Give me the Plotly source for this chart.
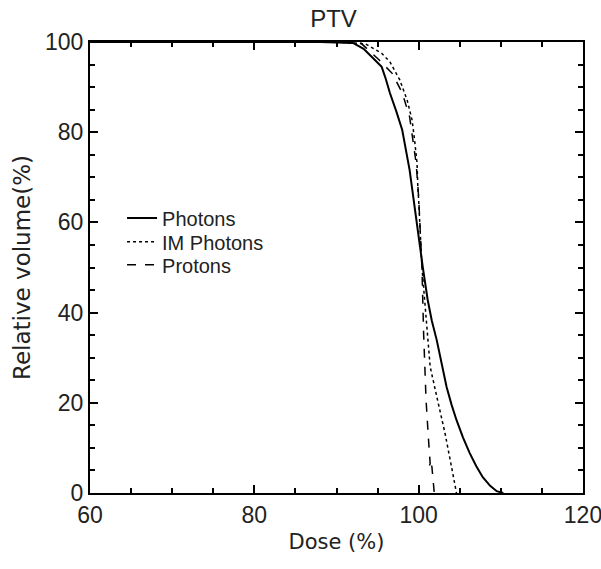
import plotly.graph_objects as go

FONT = "Liberation Sans, Arial, sans-serif"
TITLE_FONT = "DejaVu Sans, Liberation Sans, sans-serif"

# Dose (%) and relative volume (%)
photons_dose = [60, 88, 92.0, 93.3, 94.4, 95.5, 96.0, 96.5, 97.3, 98.0, 98.9, 99.5, 100.0, 100.5, 101.1, 101.6, 102.2, 102.8, 103.4, 104.0, 104.6, 105.4, 106.2, 107.0, 107.8, 108.7, 109.5, 110.3]
photons_vol = [100, 100, 99.8, 98.5, 96.5, 94.5, 91.8, 88.7, 84.5, 80.5, 71.6, 63.4, 56.5, 50.1, 42.8, 38.2, 33.9, 28.5, 23.5, 19.6, 16.2, 12.3, 8.9, 6.0, 3.5, 1.6, 0.4, 0]

im_dose = [60, 90, 93.5, 95.5, 96.5, 97.7, 98.6, 99.2, 99.5, 99.8, 99.9, 100.0, 100.4, 100.9, 101.4, 102.3, 103.2, 104.0, 104.6]
im_vol = [100, 100, 99.6, 97.5, 95.6, 91.6, 87.1, 82.7, 78.3, 73.2, 67.8, 65.0, 50.0, 38.0, 28.0, 20.6, 13.3, 5.8, 0]

protons_dose = [60, 90, 93.0, 95.2, 96.8, 98.0, 98.9, 99.3, 99.7, 100.0, 100.4, 100.6, 100.9, 101.2, 101.4, 101.1, 101.6, 101.9]
protons_vol = [100, 100, 99.7, 96.0, 93.0, 88.7, 83.4, 78.0, 73.0, 65.6, 50.0, 35.5, 20.6, 11.8, 6.5, 5.2, 6.0, 0]

x_ticks = [60, 80, 100, 120]
y_ticks = [0, 20, 40, 60, 80, 100]

fig = go.Figure()
fig.add_trace(go.Scatter(x=photons_dose, y=photons_vol, mode="lines", name="Photons", legend="legend",
                         line=dict(color="black", width=2, dash="solid")))
fig.add_trace(go.Scatter(x=im_dose, y=im_vol, mode="lines", name="IM Photons", legend="legend2",
                         line=dict(color="black", width=1.5, dash="dot")))
fig.add_trace(go.Scatter(x=protons_dose, y=protons_vol, mode="lines", name="Protons", legend="legend3",
                         line=dict(color="black", width=1.5, dash="dash")))

axis_common = dict(
    showline=True, linecolor="black", linewidth=2, mirror="allticks",
    ticks="inside", ticklen=8, tickwidth=1.5, tickcolor="black",
    showgrid=False, zeroline=False, ticklabeloverflow="allow", automargin=False,
    tickfont=dict(family=FONT, size=23, color="#222"),
    minor=dict(ticks="inside", ticklen=5, tickwidth=1.5, tickcolor="black", dtick=5, showgrid=False),
)

leg_common = dict(x=0.065, xanchor="left", yanchor="middle", bgcolor="rgba(0,0,0,0)",
                  font=dict(family=FONT, size=20, color="#222"))

fig.update_layout(
    width=601, height=569,
    margin=dict(l=90, r=18, t=42, b=76, autoexpand=False),
    paper_bgcolor="white", plot_bgcolor="white",
    title=dict(text="PTV", x=0.555, xanchor="center", y=0.968, yanchor="middle",
               font=dict(family=FONT, size=24, color="#222")),
    xaxis=dict(range=[60, 120], tickvals=x_ticks, ticktext=[str(v) for v in x_ticks],
               title=dict(text="Dose (%)", font=dict(family=TITLE_FONT, size=21, color="#222"), standoff=8),
               **axis_common),
    yaxis=dict(range=[0, 100], tickvals=y_ticks, ticktext=[str(v) for v in y_ticks],
               title=dict(text="Relative volume(%)", font=dict(family=TITLE_FONT, size=23, color="#222"), standoff=8),
               **axis_common),
    legend=dict(y=0.610, **leg_common),
    legend2=dict(y=0.557, **leg_common),
    legend3=dict(y=0.506, **leg_common),
    showlegend=True,
)

fig.write_html("out.html")
